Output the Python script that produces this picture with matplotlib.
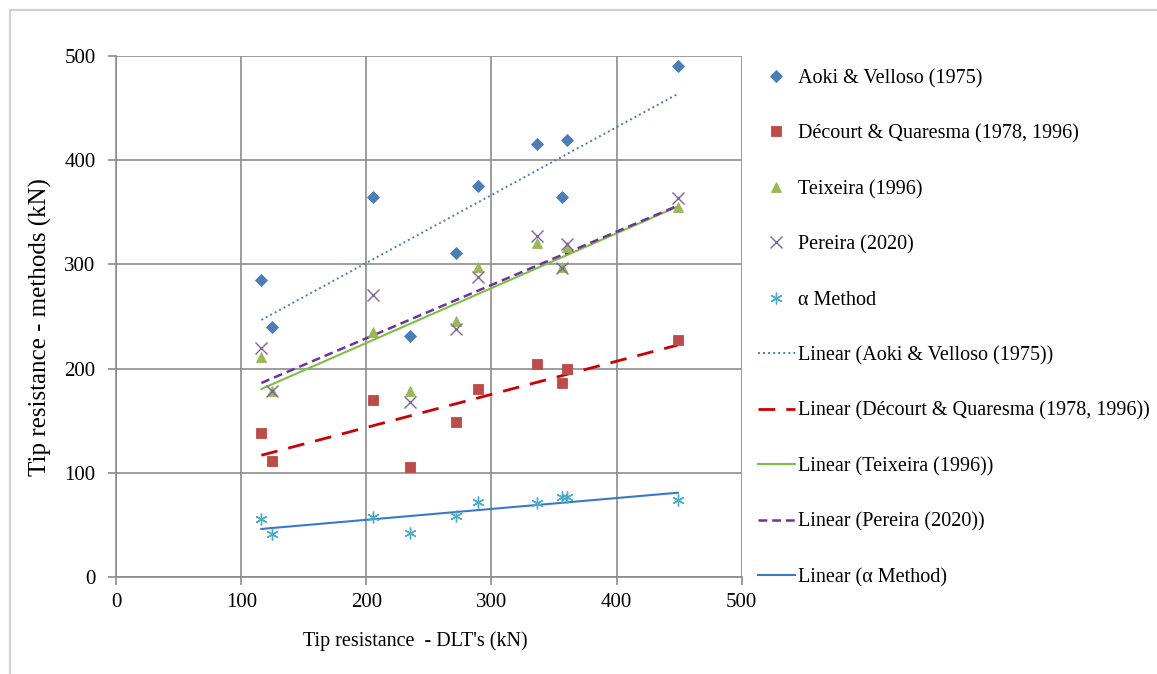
import numpy as np
import matplotlib.pyplot as plt
from matplotlib.lines import Line2D

plt.rcParams['font.family'] = ['Liberation Serif', 'DejaVu Serif']

# tip resistance from DLT's (kN), one per pile
dlt = [116, 124.5, 205, 235, 272, 289, 336, 356, 360, 449]

aoki = [285, 240, 365, 231, 311, 375, 416, 365, 420, 491]
decourt = [138, 111, 170, 105, 149, 180, 204, 186, 200, 227]
teixeira = [211, 178, 235, 178, 246, 298, 321, 298, 317, 355]
pereira = [220, 178, 271, 168, 238, 288, 327, 297, 320, 364]
alpha = [55, 41, 57, 42, 58, 72, 71, 77, 77, 74]

names = ['Aoki & Velloso (1975)', 'Décourt & Quaresma (1978, 1996)',
         'Teixeira (1996)', 'Pereira (2020)', 'α Method']
series = [aoki, decourt, teixeira, pereira, alpha]

mk_colors = ['#4A7EBB', '#BE4B48', '#98B954', '#8064A2', '#4BACC6']
markers = ['D', 's', '^', 'x', (6, 2, 0)]
msizes = [6, 7, 7.5, 8.5, 8.5]
tr_colors = ['#4A7EBB', '#CC0000', '#7AC142', '#7030A0', '#3A78C9']
tr_styles = [(0, (1, 1.6)), (0, (6, 4)), '-', (0, (3.5, 2)), '-']
tr_widths = [1.4, 2.0, 1.5, 1.8, 1.5]

fig = plt.figure(figsize=(11.57, 6.74), dpi=100)
ax = fig.add_axes([0.1005, 0.1444, 0.5405, 0.7721])

x = np.array(dlt)
handles_pts = []
handles_tr = []
for i in range(len(series)):
    y = np.array(series[i])
    ms = markers[i]
    if ms == 'x' or isinstance(ms, tuple):
        h, = ax.plot(x, y, linestyle='none', marker=ms, ms=msizes[i],
                     mec=mk_colors[i], mew=1.0, zorder=4)
    else:
        h, = ax.plot(x, y, linestyle='none', marker=ms, ms=msizes[i],
                     mfc=mk_colors[i], mec=mk_colors[i], mew=0.6, zorder=4)
    handles_pts.append(h)

for i in range(len(series)):
    y = np.array(series[i])
    b, a = np.polyfit(x, y, 1)
    xs = np.array([x.min(), x.max()])
    h, = ax.plot(xs, a + b * xs, color=tr_colors[i], linestyle=tr_styles[i],
                 lw=tr_widths[i], zorder=3)
    handles_tr.append(h)

ax.set_xlim(0, 500)
ax.set_ylim(0, 500)
ax.set_xticks(range(0, 501, 100))
ax.set_yticks(range(0, 501, 100))
ax.grid(True, color='#8C8C8C', lw=1.2)
ax.set_axisbelow(True)
for s in ['top', 'right']:
    ax.spines[s].set_visible(False)
for s in ['left', 'bottom']:
    ax.spines[s].set_color('#8C8C8C')
    ax.spines[s].set_linewidth(1.2)
ax.tick_params(direction='out', length=6, width=1.2, color='#8C8C8C',
               labelsize=15)
ax.tick_params(axis='x', pad=6)
ax.tick_params(axis='y', pad=9)

ax.set_xlabel("Tip resistance  - DLT's (kN)", fontsize=14.5)
ax.xaxis.set_label_coords(0.478, -0.104)
ax.set_ylabel('Tip resistance - methods (kN)', fontsize=18)
ax.yaxis.set_label_coords(-0.103, 0.48)

labels = names + ['Linear (' + n + ')' for n in names]
leg = fig.legend(handles_pts + handles_tr, labels, loc='upper left',
                 bbox_to_anchor=(0.655, 0.898), frameon=False, fontsize=14.5,
                 labelspacing=1.80, handlelength=1.84, handletextpad=0.15,
                 borderpad=0, borderaxespad=0)

# light frame like the exported chart area
fig.add_artist(Line2D([0.009, 1.0], [0.985, 0.985], color='#D0D0D0', lw=1.5))
fig.add_artist(Line2D([0.009, 0.009], [0.0, 0.985], color='#D0D0D0', lw=1.5))

fig.savefig('out.png', dpi=100)
